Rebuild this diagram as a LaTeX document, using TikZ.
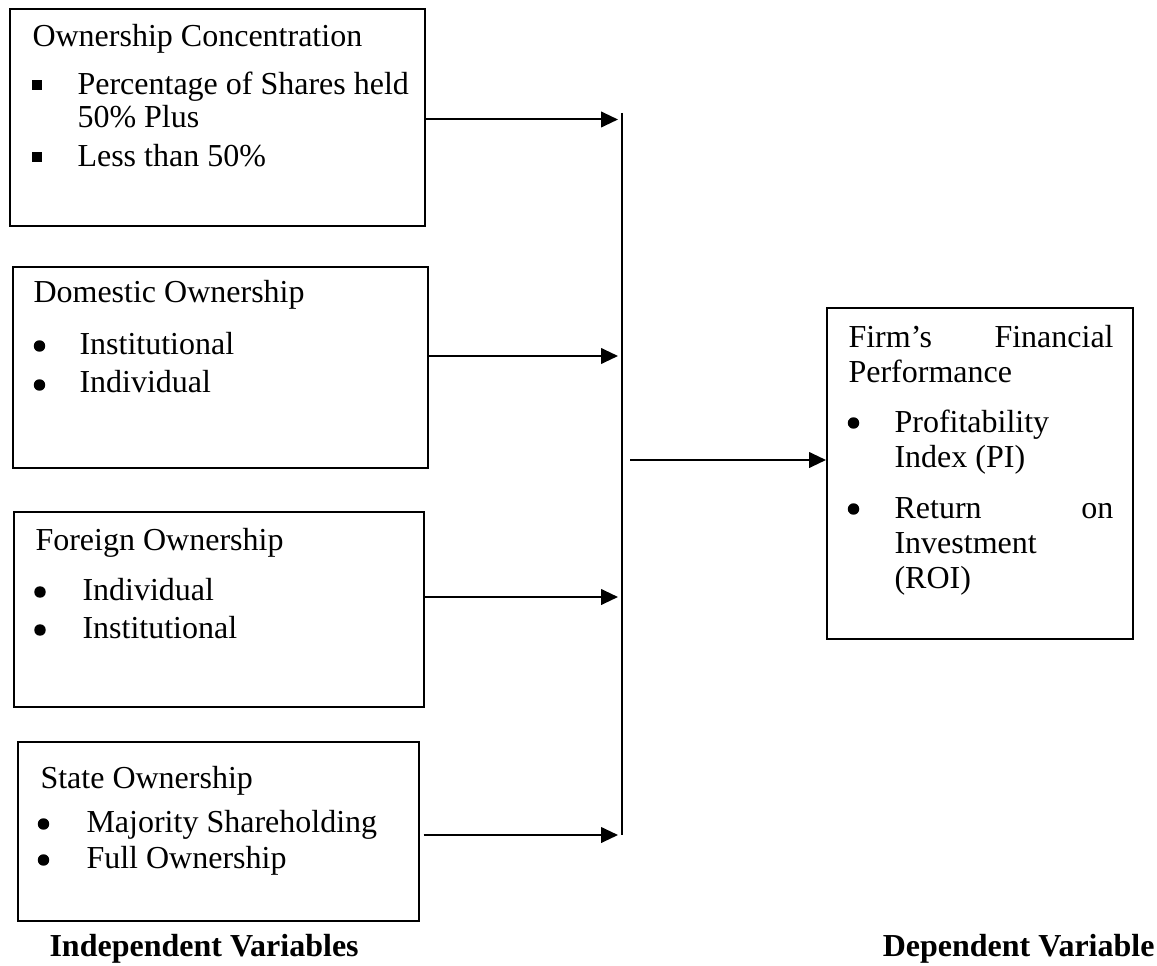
\documentclass[tikz,border=0pt]{standalone}
\usepackage{fontspec}
\setmainfont{Liberation Serif}
\usetikzlibrary{arrows.meta,fit}
\begin{document}
\begin{tikzpicture}[x=0.375pt,y=-0.375pt,
  box/.style={draw,line width=0.75pt,inner sep=0pt},
  txt/.style={anchor=base west,inner sep=0pt,font=\fontsize{12}{13}\selectfont},
  lbl/.style={inner sep=0pt,font=\fontsize{12}{13}\selectfont\bfseries},
  bul/.style={circle,fill,inner sep=0pt,minimum size=4.3pt},
  sqb/.style={rectangle,fill,inner sep=0pt,minimum size=3.5pt},
  conn/.style={line width=0.75pt},
  arr/.style={line width=0.75pt,-{Triangle[length=6.3pt,width=5.8pt]}}]
\useasboundingbox (0,0) rectangle (1157,965);

% boxes
\node[box,fit={(10,9) (425,226)}] (b1) {};
\node[box,fit={(13,267) (428,468)}] (b2) {};
\node[box,fit={(14,512) (424,707)}] (b3) {};
\node[box,fit={(18,742) (419,921)}] (b4) {};
\node[box,fit={(827,308) (1133,639)}] (r) {};

% box 1
\node[txt] (t1) at (32,47) {Ownership Concentration};
\node[sqb] (s11) at (37,85) {};
\node[txt] (t11) at (77,95) {Percentage of Shares held};
\node[txt] (t12) at (77,128) {50\% Plus};
\node[sqb] (s12) at (37,157) {};
\node[txt] (t13) at (77,167) {Less than 50\%};

% box 2
\node[txt] (t2) at (33,303) {Domestic Ownership};
\node[bul] (u21) at (39.5,346) {};
\node[txt] (t21) at (79,354) {Institutional};
\node[bul] (u22) at (39.5,385) {};
\node[txt] (t22) at (79,393) {Individual};

% box 3
\node[txt] (t3) at (35,550) {Foreign Ownership};
\node[bul] (u31) at (40,592) {};
\node[txt] (t31) at (82,600) {Individual};
\node[bul] (u32) at (40,630) {};
\node[txt] (t32) at (82,638) {Institutional};

% box 4
\node[txt] (t4) at (40,788) {State Ownership};
\node[bul] (u41) at (43.5,824) {};
\node[txt] (t41) at (86,832) {Majority Shareholding};
\node[bul] (u42) at (43.5,860) {};
\node[txt] (t42) at (86,868) {Full Ownership};

% right box
\node[txt] (r1) at (848,347) {\hbox to 99.4pt{Firm’s\hfill Financial}};
\node[txt] (r2) at (848,382) {Performance};
\node[bul] (ur1) at (853.5,423) {};
\node[txt] (r3) at (894,432) {Profitability};
\node[txt] (r4) at (894,467) {Index (PI)};
\node[bul] (ur2) at (853.5,509) {};
\node[txt] (r5) at (894,518) {\hbox to 82.1pt{Return\hfill on}};
\node[txt] (r6) at (894,553) {Investment};
\node[txt] (r7) at (894,588) {(ROI)};

% labels
\node[lbl,anchor=base west] (li) at (49,956) {Independent Variables};
\node[lbl,anchor=base east] (ld) at (1155,956) {Dependent Variable};

% connectors
\coordinate (vtop) at (622,113);
\coordinate (vbot) at (622,835);
\draw[conn] (vtop) -- (vbot);
\coordinate (a1) at (618,119.5);
\coordinate (a2) at (618,356);
\coordinate (a3) at (618,597);
\coordinate (a4) at (618,835);
\draw[arr] (b1.east |- a1) -- (a1);
\draw[arr] (b2.east |- a2) -- (a2);
\draw[arr] (b3.east |- a3) -- (a3);
\draw[arr] ([xshift=1.4pt]b4.east |- a4) -- (a4);
\coordinate (o) at (630,460);
\draw[arr] (o) -- (r.west |- o);
\end{tikzpicture}
\end{document}
